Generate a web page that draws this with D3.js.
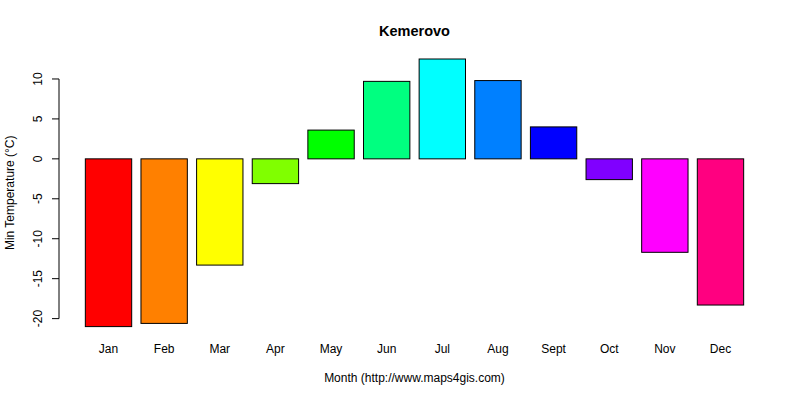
<!DOCTYPE html>
<html><head><meta charset="utf-8">
<script src="https://cdn.jsdelivr.net/npm/d3@7"></script>
<style>body{margin:0;background:#fff}svg{display:block}text{font-family:"Liberation Sans",Arial,sans-serif}</style>
</head><body>
<svg id="c" width="800" height="400"></svg>
<script>
const months = ["Jan","Feb","Mar","Apr","May","Jun","Jul","Aug","Sept","Oct","Nov","Dec"];
const minTemp = [-21.0,-20.6,-13.3,-3.1,3.6,9.7,12.5,9.8,4.0,-2.6,-11.7,-18.3];
const barColors = ["#FF0000","#FF8000","#FFFF00","#80FF00","#00FF00","#00FF80","#00FFFF","#0080FF","#0000FF","#8000FF","#FF00FF","#FF0080"];
const yTicks = [-20,-15,-10,-5,0,5,10];
const title = "Kemerovo";
const xTitle = "Month (http://www.maps4gis.com)";
const yTitle = "Min Temperature (°C)";

const svg = d3.select("#c");
const L = 59, R = 770, T = 59, B = 326.6;
// R barplot coordinates: bar i spans [0.2+1.2i, 1.2+1.2i]
const x = d3.scaleLinear().domain([-0.368, 14.968]).range([L, R]);
const y = d3.scaleLinear().domain(d3.extent(minTemp)).range([B, T]);

svg.append("g").selectAll("rect").data(minTemp).join("rect")
  .attr("x", (d,i) => x(0.2 + 1.2*i))
  .attr("width", (d,i) => x(1.2 + 1.2*i) - x(0.2 + 1.2*i))
  .attr("y", d => y(Math.max(0,d)))
  .attr("height", d => Math.abs(y(d) - y(0)))
  .attr("fill", (d,i) => barColors[i])
  .attr("stroke", "#000").attr("stroke-width", 1);

// y axis
const ya = svg.append("g").attr("transform", `translate(${L},0)`);
ya.append("line").attr("x1",0).attr("x2",0).attr("y1",y(yTicks[0])).attr("y2",y(yTicks[yTicks.length-1])).attr("stroke","#000");
ya.selectAll("line.t").data(yTicks).join("line").attr("class","t")
  .attr("x1",-7).attr("x2",0).attr("y1",d=>y(d)).attr("y2",d=>y(d)).attr("stroke","#000");
ya.selectAll("text").data(yTicks).join("text")
  .attr("transform", d => `translate(-21,${y(d)}) rotate(-90)`)
  .attr("text-anchor","middle").attr("dy","0.35em")
  .attr("font-size", 12).text(d => d);

// x labels
svg.append("g").selectAll("text").data(months).join("text")
  .attr("x", (d,i) => x(0.7 + 1.2*i)).attr("y", 349).attr("dy","0.35em")
  .attr("text-anchor","middle").attr("font-size",12).text(d=>d);

svg.append("text").attr("x",(L+R)/2).attr("y",31).attr("dy","0.35em")
  .attr("text-anchor","middle").attr("font-size",14.5).attr("font-weight","bold").text(title);
svg.append("text").attr("x",(L+R)/2).attr("y",378).attr("dy","0.35em")
  .attr("text-anchor","middle").attr("font-size",12).text(xTitle);
svg.append("text").attr("transform",`translate(9.5,${(T+B)/2}) rotate(-90)`).attr("dy","0.35em")
  .attr("text-anchor","middle").attr("font-size",12).text(yTitle);
</script>
</body></html>
